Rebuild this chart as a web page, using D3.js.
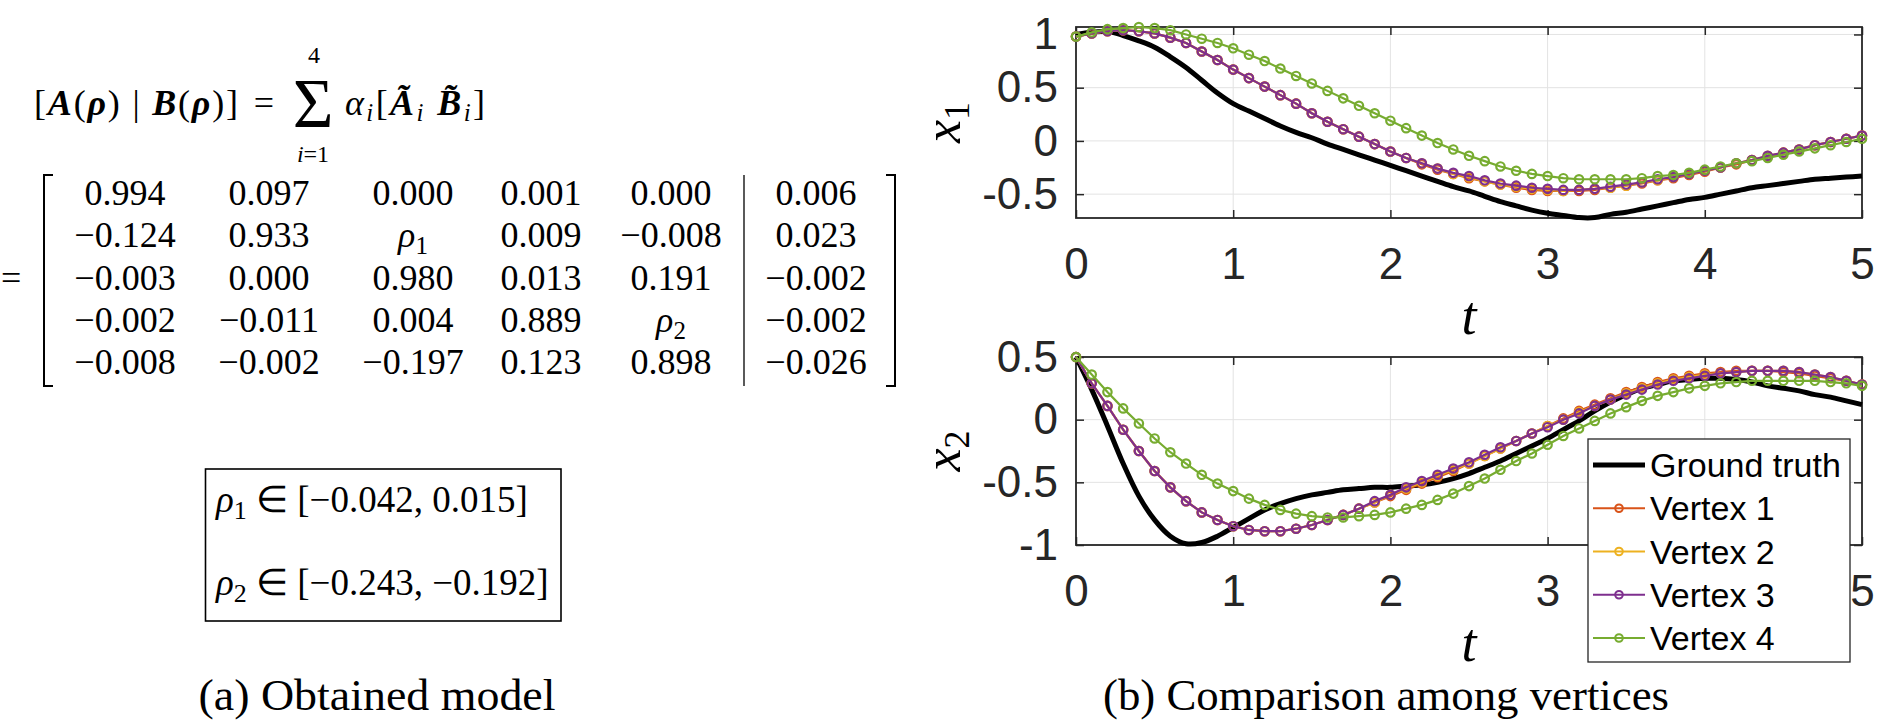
<!DOCTYPE html>
<html>
<head>
<meta charset="utf-8">
<script src="https://cdn.jsdelivr.net/npm/d3@7"></script>
<style>
  body { margin: 0; background: #fff; }
  svg { display: block; }
  .tex { font-family: "Liberation Serif", "Times New Roman", serif; fill: #000; }
  .tick text { font-family: "Liberation Sans", Arial, sans-serif; fill: #262626; }
  .legend text { font-family: "Liberation Sans", Arial, sans-serif; fill: #000; }
</style>
</head>
<body>
<svg id="fig" width="1882" height="723"></svg>
<script>
// ---- data ----
const tValues = [0,0.1,0.2,0.3,0.4,0.5,0.6,0.7,0.8,0.9,1,1.1,1.2,1.3,1.4,1.5,1.6,1.7,1.8,1.9,
  2,2.1,2.2,2.3,2.4,2.5,2.6,2.7,2.8,2.9,3,3.1,3.2,3.3,3.4,3.5,3.6,3.7,3.8,3.9,
  4,4.1,4.2,4.3,4.4,4.5,4.6,4.7,4.8,4.9,5];

const seriesNames = ['Ground truth', 'Vertex 1', 'Vertex 2', 'Vertex 3', 'Vertex 4'];

// x1(t)
const gtX1 = [1.00,1.02,1.03,0.99,0.94,0.88,0.79,0.69,0.57,0.45,0.35,0.28,0.21,0.14,0.08,0.03,-0.03,-0.08,-0.13,-0.18,
  -0.23,-0.28,-0.33,-0.38,-0.43,-0.47,-0.52,-0.57,-0.61,-0.65,-0.68,-0.70,-0.72,-0.72,-0.69,-0.67,-0.64,-0.61,-0.58,-0.55,
  -0.53,-0.50,-0.47,-0.44,-0.42,-0.40,-0.38,-0.36,-0.35,-0.34,-0.33];
const v1X1 = [0.98,1.01,1.03,1.04,1.03,1.01,0.97,0.92,0.84,0.76,0.67,0.59,0.51,0.43,0.35,0.26,0.18,0.11,0.04,-0.03,
  -0.10,-0.16,-0.22,-0.27,-0.31,-0.35,-0.38,-0.41,-0.44,-0.46,-0.47,-0.47,-0.47,-0.46,-0.44,-0.42,-0.40,-0.37,-0.35,-0.32,
  -0.29,-0.25,-0.22,-0.18,-0.15,-0.11,-0.08,-0.04,-0.01,0.02,0.05];
const v2X1 = [0.98,1.01,1.03,1.04,1.03,1.01,0.97,0.92,0.84,0.76,0.67,0.59,0.51,0.43,0.35,0.26,0.18,0.11,0.04,-0.03,
  -0.10,-0.16,-0.21,-0.26,-0.31,-0.34,-0.38,-0.41,-0.43,-0.45,-0.46,-0.47,-0.46,-0.45,-0.44,-0.42,-0.39,-0.37,-0.34,-0.31,
  -0.28,-0.25,-0.21,-0.18,-0.14,-0.11,-0.08,-0.04,-0.01,0.02,0.05];
const v3X1 = [0.98,1.01,1.03,1.04,1.03,1.01,0.97,0.92,0.84,0.76,0.67,0.59,0.51,0.43,0.35,0.26,0.18,0.11,0.04,-0.03,
  -0.10,-0.16,-0.21,-0.26,-0.30,-0.33,-0.37,-0.40,-0.42,-0.44,-0.45,-0.46,-0.46,-0.45,-0.43,-0.41,-0.39,-0.36,-0.34,-0.31,
  -0.28,-0.25,-0.21,-0.18,-0.14,-0.11,-0.08,-0.04,-0.01,0.02,0.05];
const v4X1 = [0.98,1.02,1.05,1.06,1.07,1.06,1.04,1.00,0.96,0.92,0.87,0.81,0.75,0.68,0.61,0.54,0.47,0.40,0.33,0.26,
  0.19,0.12,0.05,-0.02,-0.08,-0.14,-0.19,-0.24,-0.28,-0.31,-0.33,-0.35,-0.36,-0.36,-0.36,-0.36,-0.35,-0.33,-0.32,-0.30,
  -0.27,-0.24,-0.21,-0.19,-0.16,-0.13,-0.10,-0.07,-0.04,-0.01,0.02];

// x2(t)
const gtX2 = [0.50,0.24,-0.05,-0.35,-0.61,-0.80,-0.93,-0.99,-0.98,-0.93,-0.86,-0.79,-0.72,-0.67,-0.63,-0.60,-0.58,-0.56,-0.55,-0.54,
  -0.54,-0.53,-0.52,-0.50,-0.47,-0.43,-0.38,-0.33,-0.27,-0.21,-0.15,-0.08,-0.01,0.07,0.14,0.20,0.25,0.28,0.31,0.32,
  0.33,0.33,0.32,0.30,0.27,0.25,0.23,0.20,0.18,0.15,0.12];
const v1X2 = [0.50,0.29,0.11,-0.08,-0.25,-0.41,-0.54,-0.65,-0.74,-0.80,-0.85,-0.88,-0.89,-0.89,-0.87,-0.84,-0.80,-0.76,-0.71,-0.66,
  -0.61,-0.56,-0.51,-0.46,-0.41,-0.35,-0.29,-0.23,-0.17,-0.11,-0.05,0.01,0.07,0.12,0.17,0.22,0.26,0.30,0.33,0.35,
  0.37,0.38,0.39,0.39,0.39,0.38,0.37,0.35,0.33,0.31,0.28];
const v2X2 = [0.50,0.29,0.11,-0.08,-0.25,-0.41,-0.54,-0.65,-0.74,-0.80,-0.85,-0.88,-0.89,-0.89,-0.87,-0.84,-0.80,-0.76,-0.71,-0.66,
  -0.60,-0.55,-0.50,-0.45,-0.40,-0.35,-0.29,-0.23,-0.17,-0.11,-0.05,0.00,0.06,0.11,0.16,0.21,0.25,0.29,0.32,0.34,
  0.36,0.37,0.38,0.39,0.39,0.39,0.38,0.36,0.34,0.31,0.28];
const v3X2 = [0.50,0.29,0.11,-0.08,-0.25,-0.41,-0.54,-0.65,-0.74,-0.80,-0.85,-0.88,-0.89,-0.89,-0.87,-0.84,-0.80,-0.76,-0.71,-0.65,
  -0.60,-0.54,-0.49,-0.44,-0.39,-0.34,-0.28,-0.22,-0.17,-0.11,-0.06,0.00,0.05,0.11,0.16,0.20,0.24,0.28,0.31,0.33,
  0.35,0.37,0.38,0.39,0.39,0.39,0.38,0.36,0.34,0.31,0.28];
const v4X2 = [0.50,0.36,0.22,0.09,-0.03,-0.15,-0.26,-0.35,-0.44,-0.51,-0.57,-0.63,-0.68,-0.72,-0.75,-0.77,-0.78,-0.78,-0.77,-0.76,
  -0.74,-0.71,-0.68,-0.64,-0.59,-0.53,-0.47,-0.40,-0.33,-0.27,-0.20,-0.13,-0.07,-0.01,0.05,0.10,0.15,0.19,0.22,0.25,
  0.27,0.29,0.30,0.31,0.31,0.31,0.31,0.31,0.30,0.29,0.27];

const xTicks = [0, 1, 2, 3, 4, 5];
const yTicksX1 = [-0.5, 0, 0.5, 1];
const yTicksX2 = [-1, -0.5, 0, 0.5];

// identified model (panel a)
const matrixA = [
  ['0.994', '0.097', '0.000', '0.001', '0.000'],
  ['\u22120.124', '0.933', 'rho1', '0.009', '\u22120.008'],
  ['\u22120.003', '0.000', '0.980', '0.013', '0.191'],
  ['\u22120.002', '\u22120.011', '0.004', '0.889', 'rho2'],
  ['\u22120.008', '\u22120.002', '\u22120.197', '0.123', '0.898']
];
const matrixB = ['0.006', '0.023', '\u22120.002', '\u22120.002', '\u22120.026'];
const rhoRanges = [['1', '[\u22120.042, 0.015]'], ['2', '[\u22120.243, \u22120.192]']];

const colors = ['#000000', '#D95319', '#EDB120', '#7E2F8E', '#77AC30'];

const svg = d3.select('#fig');

class VertexPlot {
  constructor(_config, _series) {
    this.config = {
      top: _config.top,
      bottom: _config.bottom,
      left: _config.left || 1076,
      right: _config.right || 1862,
      yDomain: _config.yDomain,
      yTicks: _config.yTicks,
      sub: _config.sub,
      legend: _config.legend || false
    };
    this.series = _series;
    this.initVis();
  }

  initVis() {
    let vis = this;
    const c = vis.config;

    vis.xScale = d3.scaleLinear().domain([0, 5]).range([c.left, c.right]);
    vis.yScale = d3.scaleLinear().domain(c.yDomain).range([c.bottom, c.top]);

    vis.g = svg.append('g');

    // grid lines
    vis.g.append('g').selectAll('line')
        .data(xTicks.slice(1, -1))
      .join('line')
        .attr('x1', d => vis.xScale(d)).attr('x2', d => vis.xScale(d))
        .attr('y1', c.top).attr('y2', c.bottom)
        .attr('stroke', '#e3e3e3').attr('stroke-width', 1);
    vis.g.append('g').selectAll('line')
        .data(c.yTicks)
      .join('line')
        .attr('x1', c.left).attr('x2', c.right)
        .attr('y1', d => vis.yScale(d)).attr('y2', d => vis.yScale(d))
        .attr('stroke', '#e3e3e3').attr('stroke-width', 1);

    // axes, ticks pointing inward like matlab
    const tickLen = -8;
    vis.g.append('g')
        .attr('transform', `translate(0,${c.bottom})`)
        .call(d3.axisBottom(vis.xScale).tickValues(xTicks).tickSize(tickLen).tickPadding(30).tickFormat(d => String(d)));
    vis.g.append('g')
        .attr('transform', `translate(0,${c.top})`)
        .call(d3.axisTop(vis.xScale).tickValues(xTicks).tickSize(tickLen).tickFormat(''));
    vis.g.append('g')
        .attr('transform', `translate(${c.left},0)`)
        .call(d3.axisLeft(vis.yScale).tickValues(c.yTicks).tickSize(tickLen).tickPadding(18).tickFormat(d => String(d)));
    vis.g.append('g')
        .attr('transform', `translate(${c.right},0)`)
        .call(d3.axisRight(vis.yScale).tickValues(c.yTicks).tickSize(tickLen).tickFormat(''));

    vis.g.selectAll('.domain').remove();
    vis.g.selectAll('.tick line').attr('stroke', '#262626').attr('stroke-width', 1.5);
    vis.g.selectAll('.tick text').attr('font-size', 44);

    // box
    vis.g.append('rect')
        .attr('x', c.left).attr('y', c.top)
        .attr('width', c.right - c.left).attr('height', c.bottom - c.top)
        .attr('fill', 'none').attr('stroke', '#262626').attr('stroke-width', 1.8);

    // axis labels
    const midY = (c.top + c.bottom) / 2;
    const yl = vis.g.append('text')
        .attr('class', 'tex')
        .attr('transform', `translate(960,${midY}) rotate(-90)`)
        .attr('text-anchor', 'middle')
        .attr('font-style', 'italic')
        .attr('font-size', 52);
    yl.append('tspan').text('x');
    yl.append('tspan').attr('font-size', 36).attr('font-style', 'normal').attr('dy', 9).text(c.sub);

    vis.g.append('text')
        .attr('class', 'tex')
        .attr('x', vis.xScale(2.5)).attr('y', c.bottom + 116)
        .attr('text-anchor', 'middle')
        .attr('font-style', 'italic')
        .attr('font-size', 54)
        .text('t');

    vis.renderVis();
  }

  renderVis() {
    let vis = this;
    const line = d3.line().x(d => vis.xScale(d[0])).y(d => vis.yScale(d[1]));
    const smooth = d3.line().curve(d3.curveCatmullRom).x(d => vis.xScale(d[0])).y(d => vis.yScale(d[1]));

    vis.series.forEach((vals, i) => {
      const pts = tValues.map((t, k) => [t, vals[k]]);
      if (i === 0) {
        vis.g.append('path')
            .attr('d', smooth(pts))
            .attr('fill', 'none').attr('stroke', colors[0]).attr('stroke-width', 5);
        return;
      }
      vis.g.append('path')
          .attr('d', line(pts))
          .attr('fill', 'none').attr('stroke', colors[i]).attr('stroke-width', 2.2);
      vis.g.append('g').selectAll('circle')
          .data(pts)
        .join('circle')
          .attr('cx', d => vis.xScale(d[0]))
          .attr('cy', d => vis.yScale(d[1]))
          .attr('r', 4.2)
          .attr('fill', 'none').attr('stroke', colors[i]).attr('stroke-width', 2.2);
    });

    if (vis.config.legend) vis.renderLegend();
  }

  renderLegend() {
    const lg = svg.append('g').attr('class', 'legend');
    lg.append('rect')
        .attr('x', 1588).attr('y', 439).attr('width', 262).attr('height', 223)
        .attr('fill', '#fff').attr('stroke', '#262626').attr('stroke-width', 1.3);
    const rowY = d3.scalePoint().domain(seriesNames).range([465, 638]);
    seriesNames.forEach((name, i) => {
      const y = rowY(name);
      lg.append('line')
          .attr('x1', 1593).attr('x2', 1645).attr('y1', y).attr('y2', y)
          .attr('stroke', colors[i]).attr('stroke-width', i === 0 ? 5 : 2.2);
      if (i > 0) {
        lg.append('circle').attr('cx', 1619).attr('cy', y).attr('r', 3.8)
            .attr('fill', 'none').attr('stroke', colors[i]).attr('stroke-width', 2);
      }
      lg.append('text')
          .attr('x', 1650).attr('y', y + 12)
          .attr('font-size', 34)
          .text(name);
    });
  }
}

new VertexPlot({ top: 27, bottom: 218, yDomain: [-0.724, 1.07], yTicks: yTicksX1, sub: '1' },
  [gtX1, v1X1, v2X1, v3X1, v4X1]);
new VertexPlot({ top: 357, bottom: 545, yDomain: [-1, 0.5], yTicks: yTicksX2, sub: '2', legend: true },
  [gtX2, v1X2, v2X2, v3X2, v4X2]);

// ---- panel (a): the obtained model ----
const math = svg.append('g').attr('class', 'tex');

const lhs = math.append('text').attr('x', 34).attr('y', 115).attr('font-size', 36)
    .attr('textLength', 204).attr('lengthAdjust', 'spacing');
lhs.append('tspan').text('[');
lhs.append('tspan').attr('font-weight', 'bold').attr('font-style', 'italic').text('A');
lhs.append('tspan').text('(');
lhs.append('tspan').attr('font-weight', 'bold').attr('font-style', 'italic').text('\u03C1');
lhs.append('tspan').text(') | ');
lhs.append('tspan').attr('font-weight', 'bold').attr('font-style', 'italic').text('B');
lhs.append('tspan').text('(');
lhs.append('tspan').attr('font-weight', 'bold').attr('font-style', 'italic').text('\u03C1');
lhs.append('tspan').text(')]');

math.append('text').attr('x', 264).attr('y', 115).attr('font-size', 36).attr('text-anchor', 'middle').text('=');
math.append('text').attr('x', 313).attr('y', 127).attr('font-size', 70).attr('text-anchor', 'middle').text('\u03A3');
math.append('text').attr('x', 314).attr('y', 63).attr('font-size', 24).attr('text-anchor', 'middle').text('4');
const lim = math.append('text').attr('x', 313).attr('y', 162).attr('font-size', 24).attr('text-anchor', 'middle');
lim.append('tspan').attr('font-style', 'italic').text('i');
lim.append('tspan').text('=1');

const rhs = math.append('text').attr('x', 345).attr('y', 115).attr('font-size', 36)
    .attr('textLength', 140).attr('lengthAdjust', 'spacing');
rhs.append('tspan').attr('font-style', 'italic').text('\u03B1');
rhs.append('tspan').attr('font-style', 'italic').attr('font-size', 25).attr('dy', 6).text('i');
rhs.append('tspan').attr('dy', -6).text('[');
rhs.append('tspan').attr('font-weight', 'bold').attr('font-style', 'italic').text('A\u0303');
rhs.append('tspan').attr('font-style', 'italic').attr('font-size', 25).attr('dy', 6).text('i');
rhs.append('tspan').attr('dy', -6).text(' ');
rhs.append('tspan').attr('font-weight', 'bold').attr('font-style', 'italic').text('B\u0303');
rhs.append('tspan').attr('font-style', 'italic').attr('font-size', 25).attr('dy', 6).text('i');
rhs.append('tspan').attr('dy', -6).text(']');

// matrix
const colX = [125, 269, 413, 541, 671, 816];
const rowY = d3.scalePoint().domain(d3.range(5)).range([193, 362]);

function cell(x, y, v) {
  const t = math.append('text').attr('x', x).attr('y', y + 12).attr('font-size', 36).attr('text-anchor', 'middle');
  if (v.startsWith('rho')) {
    t.append('tspan').attr('font-style', 'italic').text('\u03C1');
    t.append('tspan').attr('font-size', 25).attr('dy', 7).text(v.slice(3));
  } else {
    t.text(v);
  }
}
matrixA.forEach((row, r) => row.forEach((v, k) => cell(colX[k], rowY(r), v)));
matrixB.forEach((v, r) => cell(colX[5], rowY(r), v));

math.append('text').attr('x', 1).attr('y', 290).attr('font-size', 36).text('=');
math.append('path').attr('d', 'M53,175 H44 V386 H53').attr('fill', 'none').attr('stroke', '#000').attr('stroke-width', 2);
math.append('path').attr('d', 'M886,175 H895 V386 H886').attr('fill', 'none').attr('stroke', '#000').attr('stroke-width', 2);
math.append('line').attr('x1', 744).attr('x2', 744).attr('y1', 175).attr('y2', 386).attr('stroke', '#000').attr('stroke-width', 1.3);

// parameter ranges box
math.append('rect').attr('x', 205.5).attr('y', 469).attr('width', 355.5).attr('height', 152)
    .attr('fill', 'none').attr('stroke', '#000').attr('stroke-width', 1.6);
const rangeY = [512, 595];
rhoRanges.forEach((r, i) => {
  const t = math.append('text').attr('x', 216).attr('y', rangeY[i]).attr('font-size', 37);
  t.append('tspan').attr('font-style', 'italic').text('\u03C1');
  t.append('tspan').attr('font-size', 26).attr('dy', 7).text(r[0]);
  t.append('tspan').attr('dy', -7).text(' \u2208 ' + r[1]);
});

// captions
math.append('text').attr('x', 377).attr('y', 710).attr('font-size', 45).attr('text-anchor', 'middle')
    .attr('textLength', 357).attr('lengthAdjust', 'spacingAndGlyphs').text('(a) Obtained model');
math.append('text').attr('x', 1386).attr('y', 710).attr('font-size', 45).attr('text-anchor', 'middle')
    .attr('textLength', 566).attr('lengthAdjust', 'spacingAndGlyphs').text('(b) Comparison among vertices');
</script>
</body>
</html>
